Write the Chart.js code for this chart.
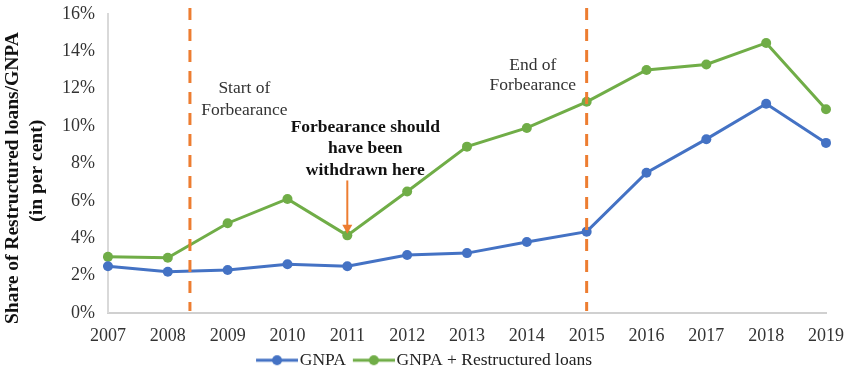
<!DOCTYPE html>
<html>
<head>
<meta charset="utf-8">
<script src="https://cdn.jsdelivr.net/npm/chart.js@4/dist/chart.umd.min.js"></script>
<style>
html,body{margin:0;padding:0;background:#fff;}
#wrap{width:850px;height:380px;}
</style>
</head>
<body>
<div id="wrap"><canvas id="c" width="850" height="380"></canvas></div>
<script>
const years = ['2007','2008','2009','2010','2011','2012','2013','2014','2015','2016','2017','2018','2019'];
const gnpa = [2.5, 2.2, 2.3, 2.6, 2.5, 3.1, 3.2, 3.8, 4.35, 7.5, 9.3, 11.2, 9.1];
const gnpaRestructured = [3.0, 2.95, 4.8, 6.1, 4.15, 6.5, 8.9, 9.9, 11.3, 13.0, 13.3, 14.45, 10.9];
const yTicks = [0, 2, 4, 6, 8, 10, 12, 14, 16];
const seriesNames = ['GNPA', 'GNPA + Restructured loans'];
// trailing spaces shift the rotated lines slightly downward, as in the original
const axisTitle = ['Share of Restructured loans/GNPA      ', '(in per cent)   '];
// vertical markers (category index positions)
const markerPositions = [1.37, 8];
// annotations: [text, index position, value, bold]
const notes = [
  ['Start of', 2.28, 12.03, false],
  ['Forbearance', 2.28, 10.85, false],
  ['End of', 7.10, 13.26, false],
  ['Forbearance', 7.10, 12.19, false],
  ['Forbearance should', 4.30, 9.93, true],
  ['have been', 4.30, 8.8, true],
  ['withdrawn here', 4.30, 7.62, true]
];
const arrowSpec = {index: 4, from: 7.09, to: 4.24};

const BLUE = '#4472C4', GREEN = '#70AD47', ORANGE = '#ED7D31';
const SERIF = '"Liberation Serif", "Times New Roman", serif';

function legendIcon(color){
  const cv = document.createElement('canvas');
  cv.width = 56; cv.height = 12;
  const g = cv.getContext('2d');
  g.strokeStyle = color; g.lineWidth = 3;
  g.beginPath(); g.moveTo(14,6); g.lineTo(56,6); g.stroke();
  g.fillStyle = color;
  g.beginPath(); g.arc(35,6,5,0,Math.PI*2); g.fill();
  return cv;
}

const annotate = {
  id: 'annotate',
  afterDatasetsDraw(chart){
    const ctx = chart.ctx, xs = chart.scales.x, ys = chart.scales.y;
    ctx.save();
    ctx.strokeStyle = ORANGE; ctx.lineWidth = 3; ctx.setLineDash([12,9]);
    markerPositions.forEach(p => {
      const x = xs.getPixelForValue(p);
      ctx.beginPath(); ctx.moveTo(x, ys.getPixelForValue(16.32)); ctx.lineTo(x, ys.getPixelForValue(0.1)); ctx.stroke();
    });
    ctx.setLineDash([]);
    const ax = xs.getPixelForValue(arrowSpec.index);
    const y1 = ys.getPixelForValue(arrowSpec.from), y2 = ys.getPixelForValue(arrowSpec.to);
    ctx.strokeStyle = ORANGE; ctx.fillStyle = ORANGE; ctx.lineWidth = 2;
    ctx.beginPath(); ctx.moveTo(ax, y1); ctx.lineTo(ax, y2 - 8); ctx.stroke();
    ctx.beginPath(); ctx.moveTo(ax - 5, y2 - 9); ctx.lineTo(ax + 5, y2 - 9); ctx.lineTo(ax, y2); ctx.closePath(); ctx.fill();
    ctx.textAlign = 'center'; ctx.textBaseline = 'middle';
    notes.forEach(n => {
      ctx.font = (n[3] ? 'bold 17.5px ' : '17.5px ') + SERIF;
      ctx.fillStyle = n[3] ? '#111' : '#333';
      ctx.fillText(n[0], xs.getPixelForValue(n[1]), ys.getPixelForValue(n[2]));
    });
    ctx.restore();
  }
};

new Chart(document.getElementById('c'), {
  type: 'line',
  data: {
    labels: years,
    datasets: [
      {label: seriesNames[0], data: gnpa, borderColor: BLUE, backgroundColor: BLUE, borderWidth: 3, pointRadius: 5, pointHoverRadius: 5, pointBackgroundColor: BLUE, pointBorderWidth: 0, tension: 0},
      {label: seriesNames[1], data: gnpaRestructured, borderColor: GREEN, backgroundColor: GREEN, borderWidth: 3, pointRadius: 5, pointHoverRadius: 5, pointBackgroundColor: GREEN, pointBorderWidth: 0, tension: 0}
    ]
  },
  options: {
    responsive: false,
    animation: false,
    devicePixelRatio: 1,
    layout: {padding: {top: 14, right: 10, left: 1, bottom: 1}},
    plugins: {
      tooltip: {enabled: false},
      legend: {
        position: 'bottom',
        labels: {
          usePointStyle: true,
          pointStyleWidth: 42,
          boxHeight: 12,
          padding: 0,
          color: '#222',
          font: {family: SERIF, size: 17.5},
          generateLabels(chart){
            return chart.data.datasets.map((d,i) => ({
              text: d.label, pointStyle: legendIcon(d.borderColor), fillStyle: d.borderColor,
              strokeStyle: d.borderColor, lineWidth: 0, hidden: false, datasetIndex: i, fontColor: '#222'
            }));
          }
        }
      }
    },
    scales: {
      x: {
        offset: false,
        grid: {display: false, drawTicks: false},
        border: {display: true, color: '#d0d0d0', width: 2},
        ticks: {color: '#333', font: {family: SERIF, size: 18}, padding: 13, maxRotation: 0, autoSkip: false},
        afterFit(scale){ scale.height -= 9; scale.paddingLeft = 0; scale.paddingRight = 24; }
      },
      y: {
        min: 0, max: 16,
        afterBuildTicks(scale){ scale.ticks = yTicks.map(v => ({value: v})); },
        grid: {display: false, drawTicks: false},
        border: {display: true, color: '#d9d9d9', width: 2},
        ticks: {color: '#333', font: {family: SERIF, size: 18}, padding: 13, callback: v => v + '%'},
        title: {display: true, text: axisTitle, color: '#111', font: {family: SERIF, size: 19.5, weight: 'bold', lineHeight: 1.23}, padding: {top: 0, bottom: 0}},
        afterFit(scale){ scale.paddingTop = 0; scale.paddingBottom = 0; }
      }
    }
  },
  plugins: [annotate]
});
</script>
</body>
</html>
